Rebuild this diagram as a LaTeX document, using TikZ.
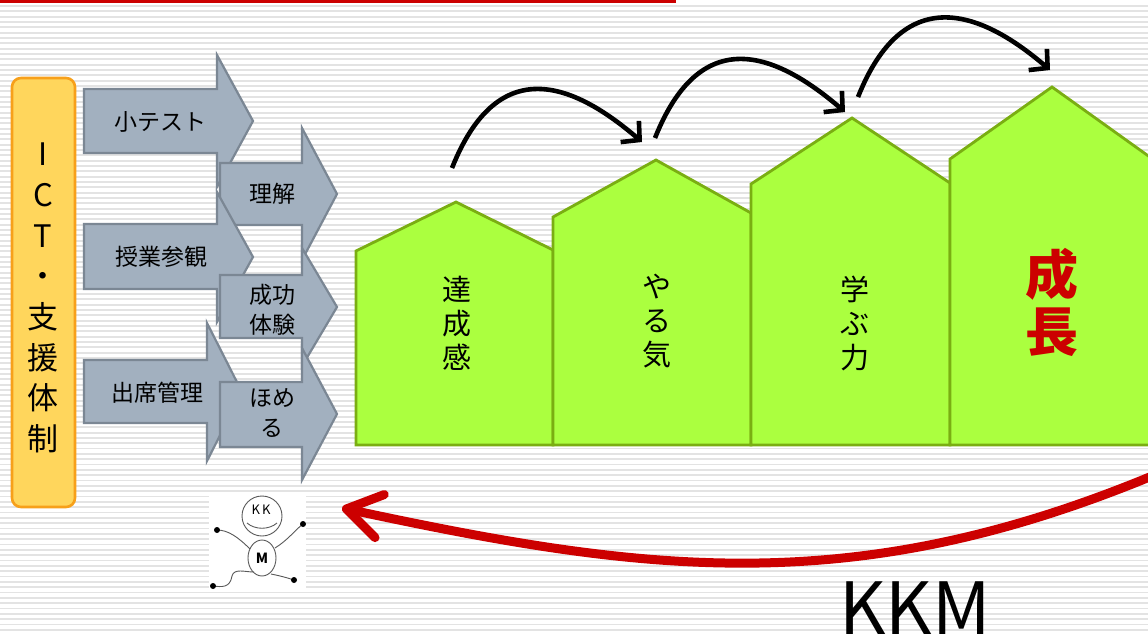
\documentclass[tikz,border=0pt]{standalone}
\usepackage{fontspec}
\setmainfont{Noto Sans CJK JP}
\usetikzlibrary{arrows.meta}
\definecolor{leaf}{HTML}{ABFF3F}
\definecolor{leafedge}{HTML}{7AAE12}
\definecolor{slate}{HTML}{A2B0BF}
\definecolor{slateedge}{HTML}{7B8794}
\definecolor{amber}{HTML}{FFD65C}
\definecolor{amberedge}{HTML}{F7A01A}
\definecolor{deepred}{HTML}{CC0000}
\tikzset{
    every node/.style={inner sep=0pt, align=center}
}
\tikzset{
    stripe/.style={draw=black!11, line width=1.7pt},
    topline/.style={draw=deepred, line width=3pt},
    ictbox/.style={fill=amber, draw=amberedge, line width=2.6pt,
        rounded corners=9pt},
    block/.style={fill=slate, draw=slateedge, line width=2.2pt},
    house/.style={fill=leaf, draw=leafedge, line width=2.8pt},
    hop/.style={line width=4.6pt,
        -{Straight Barb[length=13pt,width=28pt]}},
    feedback/.style={draw=deepred, line width=9pt,
        -{Straight Barb[round,length=34pt,width=44pt]}},
    stick/.style={draw=black!65, line width=0.9pt},
    blob/.style={fill=black, radius=3pt}
}

\begin{document}
\begin{tikzpicture}[x=1pt, y=-1pt]
	\useasboundingbox (0,0) rectangle (1148,633);
	\clip (0,0) rectangle (1148,633);
	% striped backdrop
	\fill[white] (0,0) rectangle (1148,633);
	\foreach \k in {0,...,118}
		\draw[stripe] (0,{6+5.333*\k}) -- (1148,{6+5.333*\k});
	\draw[topline] (0,1.5) -- (676,1.5);

	% support column
	\draw[ictbox] (12,78) rectangle (75,507);
	\node (ict) at (43,298) [font=\fontsize{31}{40.7}\selectfont]
		{I\\C\\T\\・\\支\\援\\体\\制};

	% block arrows, drawn top to bottom
	\draw[block] (84,89) -- (217,89) -- (217,55) -- (253,121) -- (217,187)
		-- (217,153) -- (84,153) -- cycle;
	\draw[block] (220,163) -- (302,163) -- (302,128) -- (337,194)
		-- (302,260) -- (302,225) -- (220,225) -- cycle;
	\draw[block] (84,224) -- (217,224) -- (217,192) -- (253,257)
		-- (217,322) -- (217,289) -- (84,289) -- cycle;
	\draw[block] (220,275) -- (302,275) -- (302,248) -- (337,307)
		-- (302,366) -- (302,338) -- (220,338) -- cycle;
	\draw[block] (84,360) -- (207,360) -- (207,323) -- (242,392)
		-- (207,461) -- (207,423) -- (84,423) -- cycle;
	\draw[block] (220,382) -- (302,382) -- (302,348) -- (337,414)
		-- (302,480) -- (302,447) -- (220,447) -- cycle;

	\begin{scope}[every node/.append style={font=\fontsize{23}{30}\selectfont}]
		\node (quiz) at (160,122) {小テスト};
		\node (grasp) at (272,194) {理解};
		\node (visit) at (161,257) {授業参観};
		\node (success) at (272,310) {成功\\体験};
		\node (attend) at (157,393) {出席管理};
		\node (praise) at (272,413) {ほめ\\る};
	\end{scope}

	% houses
	\draw[house] (356,445) -- (356,251) -- (456,202) -- (553,250) -- (553,445) -- cycle;
	\draw[house] (553,445) -- (553,217) -- (656,160) -- (751,213) -- (751,445) -- cycle;
	\draw[house] (751,445) -- (751,184) -- (852,118) -- (950,183) -- (950,445) -- cycle;
	\draw[house] (950,445) -- (950,159) -- (1052,87) -- (1154,160) -- (1154,445) -- cycle;

	\begin{scope}[every node/.append style={font=\fontsize{29}{34}\selectfont}]
		\node (goal) at (457,323) {達\\成\\感};
		\node (will) at (657,321) {や\\る\\気};
		\node (study) at (855,323) {学\\ぶ\\力};
	\end{scope}
	\node (growth) at (1052,302) [text=deepred,
		font=\fontsize{53}{57}\selectfont\bfseries] {成\\長};

	% jumps between the houses
	\coordinate (s1) at (452,168);
	\coordinate (t1) at (642,142);
	\coordinate (s2) at (655,138);
	\coordinate (t2) at (845,112);
	\coordinate (s3) at (858,97);
	\coordinate (t3) at (1050,70);
	\draw[hop] (s1) .. controls +(45,-113) and +(-72,-62) .. (t1);
	\draw[hop] (s2) .. controls +(45,-113) and +(-72,-62) .. (t2);
	\draw[hop] (s3) .. controls +(45,-113) and +(-72,-62) .. (t3);

	% mascot
	\fill[white] (209,496) rectangle (306,588);
	\draw[stick] (262,516) circle[radius=20pt];
	\node (kk) at (261,510) [font=\fontsize{13}{13}\selectfont] {K\,K};
	\draw[stick] (247,523) .. controls (255,530) and (269,530) .. (277,523);
	\draw[stick] (262,558) ellipse[x radius=14pt, y radius=18pt];
	\node (m) at (262,558) [font=\fontsize{14}{14}\selectfont\bfseries] {M};
	\draw[stick] (250,549) .. controls (238,537) and (228,530) .. (217,530);
	\draw[stick] (275,548) .. controls (288,540) and (295,530) .. (303,524);
	\draw[stick] (254,572) .. controls (245,572) and (234,568) .. (232,576)
		.. controls (230,588) and (222,587) .. (213,586);
	\draw[stick] (271,574) .. controls (281,576) and (288,578) .. (294,580);
	\fill[blob] (217,530) circle;
	\fill[blob] (303,524) circle;
	\fill[blob] (213,586) circle;
	\fill[blob] (294,580) circle;

	% feedback loop
	\coordinate (loopstart) at (1152,476);
	\coordinate (loopend) at (342,508);
	\draw[feedback] (loopstart) .. controls +(-300,124) and +(303,65) .. (loopend);
	\node (kkm) at (915,634) [anchor=base, font=\fontsize{72}{72}\selectfont] {KKM};
\end{tikzpicture}
\end{document}
